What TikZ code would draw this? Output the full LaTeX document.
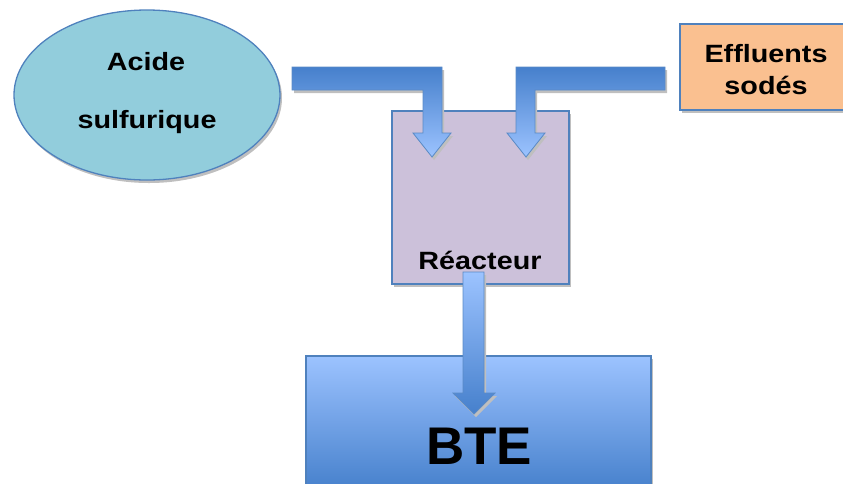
\documentclass[tikz,border=0pt]{standalone}
\usepackage{fontspec}
\setmainfont{Liberation Sans}
\newfontfamily\lblfont[FakeStretch=1.15]{Liberation Sans Bold}
\newfontfamily\bigfont{Liberation Sans Bold}
\usetikzlibrary{shapes.geometric,shadows}
\definecolor{bord}{HTML}{4F81BD}
\definecolor{ellfill}{HTML}{92CDDC}
\definecolor{efffill}{HTML}{FAC090}
\definecolor{reafill}{HTML}{CCC1DA}
\definecolor{bluelight}{HTML}{9CC3FF}
\definecolor{bluedark}{HTML}{4680CC}
\definecolor{arrbord}{HTML}{5A8AC6}
\tikzset{
  shad/.style={drop shadow={shadow xshift=2pt,shadow yshift=-3pt,fill=black!25,opacity=1}},
  shape box/.style={draw=bord,line width=1.3pt,inner sep=0pt,shad},
  lbl/.style={anchor=base,inner sep=0pt,font=\lblfont\fontsize{25}{30}\selectfont},
  flowarrow/.style={draw=arrbord,line width=0.8pt,shad},
}
\begin{document}
\begin{tikzpicture}[x=1pt,y=-1pt]
\useasboundingbox (0,0) rectangle (843,483);
% shapes
\node[shape box,ellipse,fill=ellfill,minimum width=266pt,minimum height=170pt] (acide) at (147,95) {};
\node[shape box,rectangle,fill=efffill,minimum width=170pt,minimum height=86pt] (eff) at (765,67) {};
\node[shape box,rectangle,fill=reafill,minimum width=177pt,minimum height=173pt] (rea) at (480.5,197.5) {};
\node[shape box,rectangle,top color=bluelight,bottom color=bluedark,minimum width=345pt,minimum height=134pt] (bte) at (478.5,423) {};
% labels
\node[lbl] (t1) at (146,70) {Acide};
\node[lbl] (t2) at (147,128) {sulfurique};
\node[lbl] (t3) at (766,62) {Effluents};
\node[lbl] (t4) at (766,94) {sodés};
\node[lbl] (t5) at (480,269) {Réacteur};
\node[anchor=base,inner sep=0pt,font=\bigfont\fontsize{53}{60}\selectfont] (t6) at (479,464) {BTE};
% arrows
\draw[flowarrow,top color=bluedark,bottom color=bluelight]
  (292,67) -- (442,67) -- (442,133) -- (451,133) -- (432,157) -- (413,133) -- (423,133) -- (423,90) -- (292,90) -- cycle;
\draw[flowarrow,top color=bluedark,bottom color=bluelight]
  (665,67) -- (516,67) -- (516,133) -- (507,133) -- (526,157) -- (545,133) -- (535,133) -- (535,90) -- (665,90) -- cycle;
\draw[flowarrow,top color=bluelight,bottom color=bluedark]
  (463,272) -- (484,272) -- (484,393) -- (495,393) -- (474,414) -- (453,393) -- (463,393) -- cycle;
\end{tikzpicture}
\end{document}
